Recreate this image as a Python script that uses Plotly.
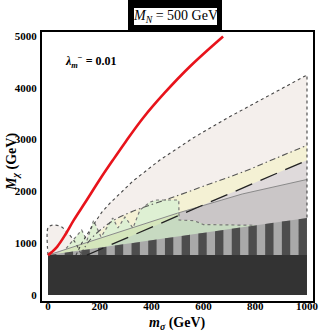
import numpy as np
import plotly.graph_objects as go

# ---------------- data ----------------
FLOOR = 770  # lower bound of the allowed region (GeV)

red_x = [0, 15, 35, 66, 100, 144, 200, 250, 300, 367, 450, 550, 676]
red_y = [770, 830, 930, 1158, 1450, 1790, 2230, 2600, 2960, 3417, 3900, 4420, 4990]

dash_x = [108, 130, 170, 208, 240, 328, 432, 560, 690, 850, 1000]
dash_y = [770, 1000, 1320, 1600, 1776, 2200, 2606, 3030, 3411, 3850, 4247]

bump_x = [0, 0, 10, 22, 50, 73, 104, 124, 130]
bump_y = [770, 1300, 1340, 1350, 1320, 1216, 1023, 830, 770]

dd_x = [125, 162, 240, 320, 432, 490, 600, 760, 880, 1000]
dd_y = [770, 1062, 1400, 1600, 1800, 1900, 2100, 2390, 2640, 2890]

ld_x = [150, 1000]
ld_y = [770, 2600]

sl_x = [0, 250, 500, 750, 1000]
sl_y = [770, 1180, 1580, 1950, 2230]

green_x = [30, 70, 100, 130, 150, 176, 205, 250, 270, 297, 328, 355, 394, 420, 505, 506, 565, 600, 800]
green_y = [770, 900, 1080, 1255, 1050, 1440, 1120, 1486, 1293, 1506, 1293, 1640, 1795, 1834, 1834, 1448, 1434, 1360, 1346]

st_x = [0, 1000]
st_y = [770, 1486]

x_ticks = [0, 200, 400, 600, 800, 1000]
y_ticks = [0, 1000, 2000, 3000, 4000, 5000]

STRIPE_W = 32.25

# ---------------- helpers ----------------
def under(xs, ys, base=FLOOR):
    xs = list(xs); ys = list(ys)
    return xs + [xs[-1], xs[0], xs[0]], ys + [base, base, ys[0]]

def fill(xs, ys, color):
    return go.Scatter(x=xs, y=ys, mode="lines", fill="toself", fillcolor=color,
                      line=dict(width=0, color=color), hoverinfo="skip")

def line(xs, ys, color, width, dash="solid", shape="linear"):
    return go.Scatter(x=xs, y=ys, mode="lines",
                      line=dict(color=color, width=width, dash=dash, shape=shape),
                      hoverinfo="skip")

fig = go.Figure()

# region fills (painter's order)
fig.add_trace(fill(*under(dash_x + [1000], dash_y + [FLOOR]), "#f4efec"))
fig.add_trace(fill(*under(bump_x, bump_y), "#f4efec"))
fig.add_trace(fill(*under(dd_x, dd_y), "#f4f1d4"))
fig.add_trace(fill(*under(ld_x, ld_y), "#dfdadb"))
fig.add_trace(fill(*under(sl_x, sl_y), "#cac6c7"))
fig.add_trace(fill(*under(green_x, green_y), "#def0d3"))

grid = np.linspace(green_x[0], green_x[-1], 600)
g_top = np.interp(grid, green_x, green_y)
a_top = np.interp(grid, sl_x, sl_y)
b_top = np.interp(grid, ld_x, ld_y)
ga = np.minimum(g_top, a_top)
gb = np.maximum(np.minimum(g_top, b_top), FLOOR)
fig.add_trace(fill(*under(grid, ga), "#d5e6bc"))
fig.add_trace(fill(*under(grid, gb), "#c7dac1"))

# striped wedge
fig.add_trace(fill(*under(st_x, st_y), "#a9a9a9"))
sx, sy = [], []
x0 = 0.0
while x0 < st_x[-1] - 1:
    x1 = min(x0 + STRIPE_W, st_x[-1])
    t0 = float(np.interp(x0, st_x, st_y)); t1 = float(np.interp(x1, st_x, st_y))
    sx += [x0, x0, x1, x1, x0, None]
    sy += [FLOOR, t0, t1, FLOOR, FLOOR, None]
    x0 += 2 * STRIPE_W
fig.add_trace(go.Scatter(x=sx, y=sy, mode="lines", fill="toself", fillcolor="#4d4d4d",
                         line=dict(width=0, color="#4d4d4d"), hoverinfo="skip"))

# excluded dark block
fig.add_trace(fill([0, 1000, 1000, 0, 0], [0, 0, FLOOR, FLOOR, 0], "#333333"))

# boundary lines
fig.add_trace(line(sl_x, sl_y, "#8a8a8a", 1))
fig.add_trace(line(green_x[1:], green_y[1:], "#777777", 1.2, "dot"))
fig.add_trace(line(dd_x, dd_y, "#555555", 1.1, "6px,3px,1.5px,3px", "spline"))
fig.add_trace(line(ld_x, ld_y, "#222222", 1.3, "18px,9px"))
fig.add_trace(line(bump_x, bump_y, "#555555", 1.2, "3px,3px", "spline"))
fig.add_trace(line(dash_x + [1000], dash_y + [st_y[-1]], "#444444", 1.1, "3px,3px"))
fig.add_trace(line(red_x, red_y, "#e8131b", 2.6, "solid", "spline"))

serif = "Liberation Serif"
fig.update_layout(
    width=319, height=331,
    margin=dict(l=42, r=6, t=32, b=30, autoexpand=False),
    paper_bgcolor="white", plot_bgcolor="white",
    showlegend=False, hovermode=False,
    xaxis=dict(range=[-23.2, 1023.2], tickvals=x_ticks, showgrid=False, zeroline=False,
               showline=True, linecolor="black", linewidth=2, mirror=True, ticks="",
               automargin=False, ticklabelstandoff=-6,
               tickfont=dict(family=serif, size=11, color="black", weight="bold")),
    yaxis=dict(range=[-115.8, 5077], tickvals=y_ticks, showgrid=False, zeroline=False,
               showline=True, linecolor="black", linewidth=2, mirror=True, ticks="",
               automargin=False, ticklabelstandoff=1,
               tickfont=dict(family=serif, size=11, color="black", weight="bold")),
    shapes=[
        dict(type="rect", xref="paper", yref="paper", x0=(128 - 42) / 271, x1=(222 - 42) / 271,
             y0=(301 - 32) / 269, y1=(301 - 0) / 269, fillcolor="black", line=dict(width=0), layer="above"),
        dict(type="rect", xref="paper", yref="paper", x0=(134 - 42) / 271, x1=(217 - 42) / 271,
             y0=(301 - 25) / 269, y1=(301 - 8) / 269, fillcolor="white", line=dict(width=0), layer="above"),
    ],
    annotations=[
        dict(text="<i>M</i><sub><i>N</i></sub> = 500 GeV", xref="paper", yref="paper",
             x=(175.5 - 42) / 271, y=(301 - 16.5) / 269, showarrow=False,
             font=dict(family=serif, size=14, color="black"), xanchor="center", yanchor="middle"),
        dict(text="<b><i>λ</i><sub><i>m</i></sub><sup>−</sup> = 0.01</b>", x=58, y=4500, xref="x", yref="y",
             showarrow=False, xanchor="left", yanchor="middle",
             font=dict(family=serif, size=12, color="black")),
        dict(text="<b><i>m</i><sub><i>σ</i></sub> (GeV)</b>", xref="paper", yref="paper",
             x=(177 - 42) / 271, y=(301 - 323) / 269, showarrow=False,
             font=dict(family=serif, size=14, color="black"), xanchor="center", yanchor="middle"),
        dict(text="<b><i>M</i><sub><i>χ</i></sub> (GeV)</b>", xref="paper", yref="paper",
             x=(12 - 42) / 271, y=(301 - 162) / 269, showarrow=False, textangle=-90,
             font=dict(family=serif, size=14, color="black"), xanchor="center", yanchor="middle"),
    ],
)

fig.write_html("out.html", config={"displayModeBar": False},
               post_script="document.body.style.margin='0px';document.body.style.overflow='hidden';")
